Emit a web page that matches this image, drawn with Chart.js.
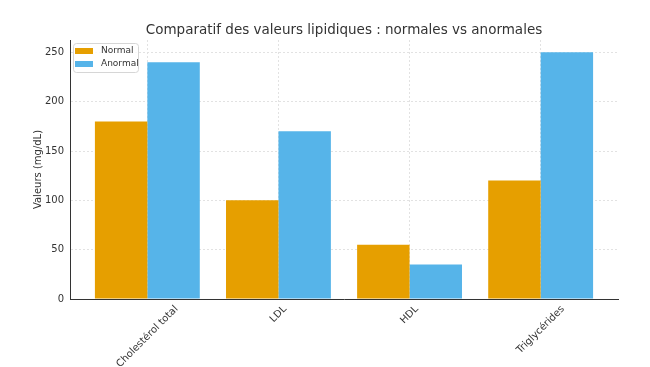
<!DOCTYPE html>
<html>
<head>
<meta charset="utf-8">
<script src="https://cdn.jsdelivr.net/npm/chart.js@4/dist/chart.umd.min.js"></script>
<style>
  html, body { margin: 0; padding: 0; background: #fff; }
  #wrap { width: 650px; height: 367px; }
</style>
</head>
<body>
<div id="wrap"><canvas id="lipidChart" width="650" height="367"></canvas></div>
<script>
// données du graphique
const categories = ['Cholestérol total', 'LDL', 'HDL', 'Triglycérides'];
const normalValues = [180, 100, 55, 120];
const abnormalValues = [240, 170, 35, 250];
const yTicks = [0, 50, 100, 150, 200, 250];
const seriesNames = ['Normal', 'Anormal'];
const chartTitle = 'Comparatif des valeurs lipidiques : normales vs anormales';

const FONT = 'DejaVu Sans';
const TEXT = '#333333';

// titre centre sur la zone du graphique
const centeredTitle = {
    id: 'centeredTitle',
    afterDraw(chart) {
        const c = chart.ctx, a = chart.chartArea;
        c.save();
        c.font = '13.5px ' + FONT;
        c.fillStyle = TEXT;
        c.textAlign = 'center';
        c.textBaseline = 'middle';
        c.fillText(chartTitle, (a.left + a.right) / 2, 30);
        c.restore();
    }
};

// etiquettes de l'axe x tournees de 45 degres, centrees sous chaque graduation
const rotatedLabels = {
    id: 'rotatedLabels',
    afterDraw(chart) {
        const c = chart.ctx, xs = chart.scales.x;
        c.save();
        c.font = '10px ' + FONT;
        c.fillStyle = TEXT;
        c.textAlign = 'center';
        c.textBaseline = 'middle';
        categories.forEach((label, i) => {
            const w = c.measureText(label).width;
            const half = (w + 10) * Math.SQRT1_2 / 2;
            c.save();
            c.translate(xs.getPixelForValue(i), xs.top + 5 + half);
            c.rotate(-Math.PI / 4);
            c.fillText(label, 0, 0);
            c.restore();
        });
        c.restore();
    }
};

// legende dessinee dans la zone du graphique (en haut a gauche)
const innerLegend = {
    id: 'innerLegend',
    afterDraw(chart) {
        const c = chart.ctx;
        const area = chart.chartArea;
        const x = area.left + 3, y = area.top + 3;
        const w = 65, h = 29;
        c.save();
        c.fillStyle = 'rgba(255,255,255,0.8)';
        c.strokeStyle = '#d6d6d6';
        c.lineWidth = 1;
        c.beginPath();
        c.roundRect(x + 0.5, y + 0.5, w, h, 3);
        c.fill();
        c.stroke();
        c.font = '9px ' + FONT;
        c.textBaseline = 'middle';
        chart.data.datasets.forEach((ds, i) => {
            const rowY = y + 8 + i * 13;
            c.fillStyle = ds.backgroundColor;
            c.fillRect(x + 2, rowY - 3, 18, 6);
            c.fillStyle = TEXT;
            c.fillText(ds.label, x + 28, rowY);
        });
        c.restore();
    }
};

const ctx = document.getElementById('lipidChart').getContext('2d');

new Chart(ctx, {
    type: 'bar',
    data: {
        datasets: [{
            label: seriesNames[0],
            data: categories.map((c, i) => ({ x: i, y: normalValues[i] })),
            backgroundColor: '#E69F00',
            barPercentage: 1.0,
            categoryPercentage: 0.8
        }, {
            label: seriesNames[1],
            data: categories.map((c, i) => ({ x: i, y: abnormalValues[i] })),
            backgroundColor: '#56B4E9',
            barPercentage: 1.0,
            categoryPercentage: 0.8
        }]
    },
    options: {
        responsive: false,
        animation: false,
        layout: { padding: { left: 0, right: 32, top: 40, bottom: 0 } },
        plugins: {
            legend: { display: false },
            tooltip: { enabled: false },
            title: { display: false }
        },
        scales: {
            x: {
                type: 'linear',
                min: -0.59,
                max: 3.59,
                offset: false,
                afterBuildTicks: (scale) => {
                    scale.ticks = categories.map((c, i) => ({ value: i }));
                },
                afterFit: (scale) => {
                    scale.height = 68;
                    scale.paddingLeft = 0;
                    scale.paddingRight = 0;
                },
                ticks: {
                    display: false
                },
                grid: {
                    offset: false,
                    color: '#e2e2e2',
                    drawTicks: false
                },
                border: { color: '#333333', width: 1, dash: [2, 2] }
            },
            y: {
                min: 0,
                max: 262.5,
                afterBuildTicks: (scale) => {
                    scale.ticks = yTicks.map((v) => ({ value: v }));
                },
                afterFit: (scale) => { scale.width = 70; },
                ticks: {
                    color: TEXT,
                    padding: 6,
                    font: { family: FONT, size: 10 }
                },
                grid: {
                    color: '#e2e2e2',
                    drawTicks: false
                },
                border: { color: '#333333', width: 1, dash: [2, 2] },
                title: {
                    display: true,
                    text: 'Valeurs (mg/dL)',
                    color: TEXT,
                    font: { family: FONT, size: 10 },
                    padding: { top: 32, bottom: 0 }
                }
            }
        }
    },
    plugins: [centeredTitle, rotatedLabels, innerLegend]
});
</script>
</body>
</html>
